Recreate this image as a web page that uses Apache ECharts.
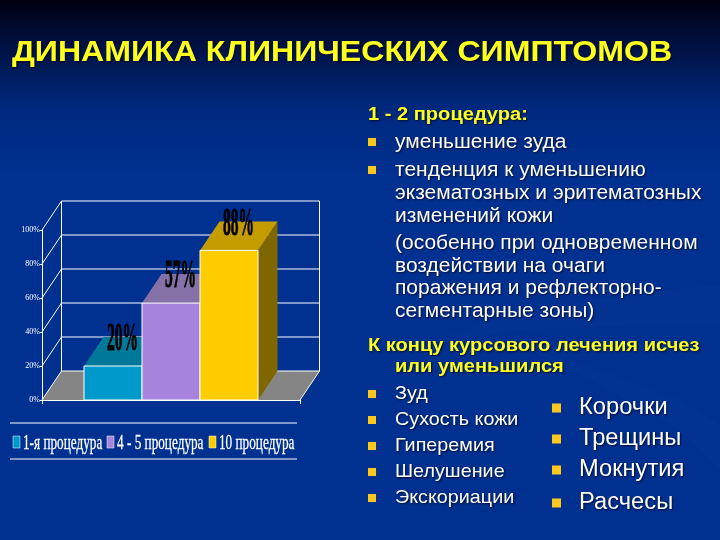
<!DOCTYPE html>
<html><head><meta charset="utf-8">
<style>html,body{margin:0;padding:0;background:#003090}#c{width:720px;height:540px}</style>
<script src="https://cdn.jsdelivr.net/npm/echarts@6/dist/echarts.min.js"></script>
</head><body><div id="c"></div>
<script>
var titleText = 'ДИНАМИКА КЛИНИЧЕСКИХ СИМПТОМОВ';
var seriesNames = ['1-я процедура', '4 - 5 процедура', '10 процедура'];
var seriesValues = [20, 57, 88];
var valueLabels = ['20%', '57%', '88%'];
var yTicks = [0, 20, 40, 60, 80, 100];
var headA = '1 - 2 процедура:';
var bodyA = [['уменьшение зуда', 142, true], ['тенденция к уменьшению', 170, true], ['экзематозных и эритематозных', 193], ['изменений кожи', 216], ['(особенно при одновременном', 243], ['воздействии на очаги', 266], ['поражения и рефлекторно-', 288], ['сегментарные зоны)', 311]];
var headB = ['К концу курсового лечения исчез', 'или уменьшился'];
var listB = ['Зуд', 'Сухость кожи', 'Гиперемия', 'Шелушение', 'Экскориации'];
var listBy = [394, 420, 446, 472, 498];
var listC = ['Корочки', 'Трещины', 'Мокнутия', 'Расчесы'];
var listCy = [408, 439, 470, 503];

var frontColors = ['#0099CC', '#A683DC', '#FFCC00'];
var topColors = ['#00789A', '#8570A8', '#C49C00'];
var sideColors = ['#005A73', '#66548A', '#7F6600'];
var DX = 19.5, DY = -29, BAR_FRAC = 58 / 258;

function renderWalls(params, api) {
  var v = api.value(0);
  var ctr = api.coord([0, 0]);
  var w = api.size([1, 0])[0];
  var L = ctr[0] - w / 2, R = ctr[0] + w / 2;
  var y = api.coord([0, v])[1];
  var line = { stroke: '#fff', lineWidth: 1 };
  var kids = [];
  kids.push({ type: 'line', shape: { x1: L, y1: y, x2: L + DX, y2: y + DY }, style: line });
  kids.push({ type: 'line', shape: { x1: L + DX, y1: y + DY, x2: R + DX, y2: y + DY }, style: line });
  if (v === 0) {
    kids.unshift({ type: 'polygon', shape: { points: [[L, y], [L + DX, y + DY], [R + DX, y + DY], [R, y]] }, style: { fill: '#858585' } });
    kids.push({ type: 'line', shape: { x1: R, y1: y, x2: R + DX, y2: y + DY }, style: line });
    var top = api.coord([0, 100])[1];
    kids.push({ type: 'line', shape: { x1: L + DX, y1: y + DY, x2: L + DX, y2: top + DY }, style: line });
    kids.push({ type: 'line', shape: { x1: R + DX, y1: y + DY, x2: R + DX, y2: top + DY }, style: line });
  }
  return { type: 'group', children: kids };
}

function renderBar(idx) {
  return function (params, api) {
    var val = api.value(1);
    var ctr = api.coord([0, 0]);
    var w = api.size([1, 0])[0];
    var bw = w * BAR_FRAC;
    var x0 = ctr[0] + (idx - 1.5) * bw, x1 = x0 + bw;
    var yb = ctr[1], yt = api.coord([0, val])[1];
    var border = { stroke: '#fff', lineWidth: 1 };
    return { type: 'group', children: [
      { type: 'polygon', shape: { points: [[x1, yb], [x1 + DX, yb + DY], [x1 + DX, yt + DY], [x1, yt]] }, style: { fill: sideColors[idx] } },
      { type: 'polygon', shape: { points: [[x0, yt], [x0 + DX, yt + DY], [x1 + DX, yt + DY], [x1, yt]] }, style: { fill: topColors[idx] } },
      { type: 'rect', shape: { x: x0, y: yt, width: bw, height: yb - yt }, style: Object.assign({ fill: frontColors[idx] }, border) },
      { type: 'text', x: (x0 + x1) / 2 + 9.5, y: yt - 26, scaleX: 0.39, z2: 50,
        style: { text: valueLabels[idx], x: 0, y: 0, align: 'center', verticalAlign: 'middle', fill: '#000',
          font: 'bold 40px "Liberation Serif"', stroke: '#000', lineWidth: 1 } }
    ] };
  };
}

var series = [{ type: 'custom', name: 'walls', silent: true, clip: false, z: 1,
  data: yTicks.map(function (t) { return [t]; }), encode: { y: 0 }, renderItem: renderWalls }];
seriesNames.forEach(function (n, i) {
  series.push({ type: 'custom', name: n, silent: true, clip: false, z: 2 + i,
    data: [[seriesNames[0], seriesValues[i]]], encode: { x: 0, y: 1 }, renderItem: renderBar(i) });
});

var g = [];
g.push({ type: 'polygon', z: 0, silent: true, shape: { points: [[420, 345], [520, 312], [640, 292], [720, 285], [720, 325], [640, 325], [520, 330]] }, style: { fill: 'rgba(120,170,255,0.025)' } });
g.push({ type: 'polygon', z: 0, silent: true, shape: { points: [[520, 345], [600, 370], [680, 400], [720, 425], [720, 470], [680, 430], [600, 385]] }, style: { fill: 'rgba(120,170,255,0.02)' } });
var shadow = { textShadowColor: 'rgba(0,0,20,0.75)', textShadowBlur: 2, textShadowOffsetX: 1, textShadowOffsetY: 1 };
function txt(t, x, y, size, color, bold, sx) {
  g.push({ type: 'text', x: x, y: y, scaleX: sx || 1, z: 10,
    style: Object.assign({ text: t, x: 0, y: 0, align: 'left', verticalAlign: 'middle', fill: color,
      font: (bold ? 'bold ' : '') + size + 'px "Liberation Sans"' }, shadow) });
}
function bullet(x, y, s) {
  g.push({ type: 'rect', z: 10, shape: { x: x, y: y - s / 2, width: s, height: s }, style: { fill: '#FFC81E' } });
}
txt(titleText, 12, 53, 30, '#FFFF1E', true, 1.07);
txt(headA, 368, 115, 18, '#FFFF1E', true, 1.115);
bodyA.forEach(function (r) { txt(r[0], 395, r[1], 20, '#fff', false, 1.05); if (r[2]) bullet(368, r[1], 8); });
txt(headB[0], 368, 346, 18, '#FFFF1E', true, 1.115);
txt(headB[1], 395, 367, 18, '#FFFF1E', true, 1.115);
listB.forEach(function (t, i) { txt(t, 395, listBy[i], 19, '#fff', false, 1.04); bullet(368, listBy[i], 8); });
listC.forEach(function (t, i) { txt(t, 579, listCy[i], 23, '#fff', false, 1.03); bullet(552, listCy[i], 9); });

[423, 459].forEach(function (y) {
  g.push({ type: 'line', z: 10, shape: { x1: 10, y1: y, x2: 297, y2: y }, style: { stroke: '#fff', lineWidth: 1 } });
});
var legX = [13, 107, 209];
seriesNames.forEach(function (n, i) {
  g.push({ type: 'rect', z: 10, shape: { x: legX[i], y: 436, width: 7, height: 12 }, style: { fill: frontColors[i], stroke: '#fff', lineWidth: 0.5 } });
  g.push({ type: 'text', z: 10, x: legX[i] + 10, y: 443, scaleX: 0.63,
    style: { text: n, x: 0, y: 0, align: 'left', verticalAlign: 'middle', fill: '#fff', font: '21px "Liberation Serif"', stroke: '#fff', lineWidth: 0.3 } });
});

var chart = echarts.init(document.getElementById('c'), null, { renderer: 'canvas' });
chart.setOption({
  animation: false,
  backgroundColor: { type: 'linear', x: 0, y: 0, x2: 0, y2: 1, colorStops: [
    { offset: 0, color: '#000010' }, { offset: 0.08, color: '#001040' }, { offset: 0.2, color: '#00297E' },
    { offset: 0.32, color: '#003090' }, { offset: 1, color: '#003090' }] },
  grid: { left: 42, top: 230, width: 258, height: 170 },
  xAxis: { type: 'category', data: [seriesNames[0]], axisLine: { lineStyle: { color: '#fff', width: 1 } },
    axisTick: { show: true, alignWithLabel: false, length: 4, lineStyle: { color: '#fff' } }, axisLabel: { show: false }, splitLine: { show: false } },
  yAxis: { type: 'value', min: 0, max: 100, interval: 20,
    axisLine: { show: true, lineStyle: { color: '#fff', width: 1 } },
    axisTick: { show: true, length: 2, lineStyle: { color: '#fff' } }, splitLine: { show: false },
    axisLabel: { color: '#fff', fontSize: 8, margin: 2, fontFamily: 'Liberation Serif', formatter: '{value}%' } },
  series: series,
  graphic: g
});
</script></body></html>
